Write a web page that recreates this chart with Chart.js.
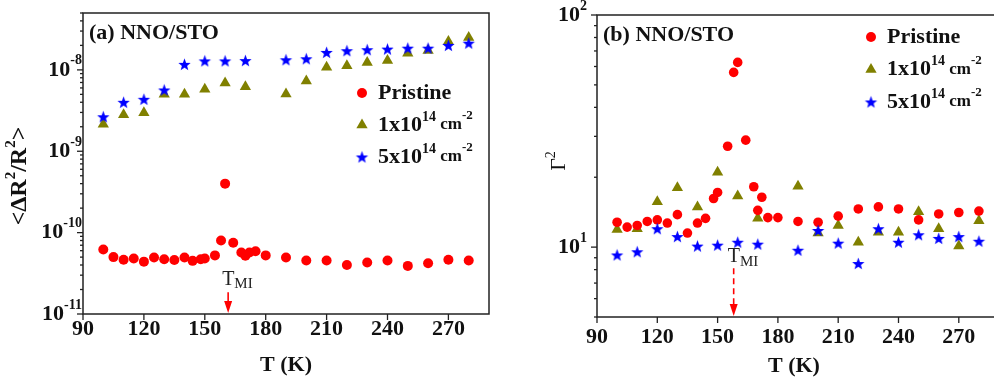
<!DOCTYPE html>
<html>
<head>
<meta charset="utf-8">
<script src="https://cdn.jsdelivr.net/npm/chart.js@4.4.1/dist/chart.umd.min.js"></script>
<style>
  html, body { margin: 0; padding: 0; background: #fff; overflow: hidden; width: 994px; height: 382px; }
  #wa { position: absolute; left: 0; top: 0; width: 497px; height: 382px; }
  #wb { position: absolute; left: 497px; top: 0; width: 520px; height: 382px; }
</style>
</head>
<body>
<div id="wa"><canvas id="ca" width="497" height="382"></canvas></div>
<div id="wb"><canvas id="cb" width="520" height="382"></canvas></div>
<script>
// ---- data ----
const xTicks = [90, 120, 150, 180, 210, 240, 270];

// (a) noise <dR2/R2>
const tPristineA = [100, 105, 110, 115, 120, 125, 130, 135, 140, 144, 148, 150, 155, 158, 160, 164, 168, 170, 172, 175, 180, 190, 200, 210, 220, 230, 240, 250, 260, 270, 280];
const pristineA = [6.2e-11, 5.0e-11, 4.65e-11, 4.8e-11, 4.4e-11, 4.95e-11, 4.7e-11, 4.6e-11, 4.95e-11, 4.5e-11, 4.7e-11, 4.8e-11, 5.25e-11, 8.0e-11, 4.0e-10, 7.5e-11, 5.7e-11, 5.2e-11, 5.7e-11, 5.9e-11, 5.25e-11, 4.95e-11, 4.55e-11, 4.55e-11, 4.0e-11, 4.3e-11, 4.55e-11, 3.9e-11, 4.2e-11, 4.65e-11, 4.55e-11];
const tIrrA = [100, 110, 120, 130, 140, 150, 160, 170, 190, 200, 210, 220, 230, 240, 250, 260, 270, 280];
const dose1A = [2.14e-9, 2.8e-9, 2.97e-9, 5.0e-9, 5.0e-9, 5.77e-9, 6.9e-9, 6.2e-9, 5.06e-9, 7.3e-9, 1.08e-8, 1.12e-8, 1.23e-8, 1.3e-8, 1.6e-8, 1.73e-8, 2.24e-8, 2.5e-8];
const dose5A = [2.65e-9, 4.0e-9, 4.35e-9, 5.66e-9, 1.17e-8, 1.29e-8, 1.29e-8, 1.3e-8, 1.33e-8, 1.37e-8, 1.64e-8, 1.72e-8, 1.77e-8, 1.8e-8, 1.85e-8, 1.85e-8, 2.0e-8, 2.13e-8];

// (b) Gamma^2
const tPristineB = [100, 105, 110, 115, 120, 125, 130, 135, 140, 144, 148, 150, 155, 158, 160, 164, 168, 170, 172, 175, 180, 190, 200, 210, 220, 230, 240, 250, 260, 270, 280];
const pristineB = [12.8, 12.2, 12.4, 12.9, 13.1, 12.7, 13.8, 11.5, 12.7, 13.3, 16.2, 17.2, 27.2, 56.6, 62.5, 28.9, 18.2, 14.4, 16.4, 13.4, 13.4, 12.9, 12.8, 13.6, 14.6, 14.9, 14.6, 13.1, 13.9, 14.1, 14.3];
const tIrrB = [100, 110, 120, 130, 140, 150, 160, 170, 190, 200, 210, 220, 230, 240, 250, 260, 270, 280];
const dose1B = [11.9, 12.0, 15.7, 18.0, 14.9, 21.0, 16.6, 13.3, 18.3, 11.5, 12.4, 10.5, 11.6, 11.6, 14.2, 12.0, 10.1, 13.0];
const dose5B = [9.25, 9.55, 12.0, 11.1, 10.1, 10.2, 10.5, 10.3, 9.7, 11.8, 10.4, 8.5, 12.0, 10.5, 11.3, 10.9, 11.1, 10.6];

const RED = "#ff0000", OLIVE = "#808000", BLUE = "#0000ff";
const FONT = "'Liberation Serif', 'Times New Roman', serif";

const pts = (xs, ys) => xs.map((x, i) => ({ x, y: ys[i] }));

function starImg(color, r) {
  const c = document.createElement("canvas");
  const s = Math.ceil(r * 2 + 2);
  c.width = s; c.height = s;
  const g = c.getContext("2d");
  g.fillStyle = color;
  g.beginPath();
  for (let i = 0; i < 10; i++) {
    const a = -Math.PI / 2 + i * Math.PI / 5;
    const rr = i % 2 ? r * 0.42 : r;
    g.lineTo(s / 2 + rr * Math.cos(a), s / 2 + 0.6 + rr * Math.sin(a));
  }
  g.closePath();
  g.fill();
  return c;
}
const STAR = starImg(BLUE, 6.5);

// text pieces: [text, size, dy, weight]
function textParts(ctx, parts, x, y, align) {
  let w = 0;
  parts.forEach((p) => { ctx.font = `${p[3] || "bold"} ${p[1]}px ${FONT}`; w += ctx.measureText(p[0]).width; });
  let cx = align === "right" ? x - w : align === "center" ? x - w / 2 : x;
  ctx.textAlign = "left";
  ctx.textBaseline = "middle";
  parts.forEach((p) => {
    ctx.font = `${p[3] || "bold"} ${p[1]}px ${FONT}`;
    ctx.fillText(p[0], cx, y + (p[2] || 0));
    cx += ctx.measureText(p[0]).width;
  });
}

function marker(ctx, kind, x, y) {
  if (kind === "circle") {
    ctx.fillStyle = RED;
    ctx.beginPath(); ctx.arc(x, y, 5, 0, Math.PI * 2); ctx.fill();
  } else if (kind === "triangle") {
    const r = 6.5;
    ctx.fillStyle = OLIVE;
    ctx.beginPath();
    for (let i = 0; i < 3; i++) {
      const a = i * 2 * Math.PI / 3;
      ctx.lineTo(x + Math.sin(a) * r, y - Math.cos(a) * r);
    }
    ctx.closePath(); ctx.fill();
  } else {
    ctx.drawImage(STAR, x - STAR.width / 2, y - STAR.height / 2);
  }
}

const deco = {
  id: "deco",
  afterDraw(chart) {
    const o = chart.options.plugins.deco;
    const ctx = chart.ctx;
    const a = chart.chartArea;
    const xs = chart.scales.x, ys = chart.scales.y;
    ctx.save();
    ctx.strokeStyle = "#222";
    ctx.fillStyle = "#111";
    ctx.lineWidth = 1.5;
    ctx.strokeRect(a.left, a.top, a.right - a.left, a.bottom - a.top);

    // x ticks
    ctx.lineWidth = 1.3;
    xTicks.forEach((v) => {
      const px = xs.getPixelForValue(v);
      ctx.beginPath(); ctx.moveTo(px, a.bottom); ctx.lineTo(px, a.bottom + 6); ctx.stroke();
      ctx.fillStyle = "#111";
      textParts(ctx, [[String(v), 22]], px, a.bottom + o.xLabelOff, "center");
    });

    // y ticks (log)
    const lo = Math.floor(Math.log10(ys.min)), hi = Math.ceil(Math.log10(ys.max));
    for (let e = lo; e <= hi; e++) {
      for (let m = 1; m <= 9; m++) {
        const v = m * Math.pow(10, e);
        if (v < ys.min * 0.999 || v > ys.max * 1.001) continue;
        const py = ys.getPixelForValue(v);
        ctx.beginPath(); ctx.moveTo(a.left, py); ctx.lineTo(a.left - (m === 1 ? 6 : 3), py); ctx.stroke();
        if (m === 1) textParts(ctx, [["10", 22], [String(e), 14, -9]], a.left - o.yLabelOff, py, "right");
      }
    }

    // axis titles
    textParts(ctx, [["T (K)", 22]], xs.getPixelForValue(o.xTitleAt), o.xTitleY, "center");
    ctx.save();
    ctx.translate(o.yTitleX, o.yTitleY);
    ctx.rotate(-Math.PI / 2);
    textParts(ctx, o.yTitle, 0, 0, "center");
    ctx.restore();

    // panel title
    textParts(ctx, [[o.title, 22]], a.left + 6, a.top + 20, "left");

    // legend
    o.legend.forEach((row, i) => {
      const y = o.legendY + i * o.legendGap;
      marker(ctx, row.kind, o.legendX, y);
      ctx.fillStyle = "#111";
      textParts(ctx, row.parts, o.legendX + 16, y, "left");
    });

    // T_MI arrow
    const ax = xs.getPixelForValue(o.tmi.x);
    const y0 = ys.getPixelForValue(o.tmi.from), y1 = ys.getPixelForValue(o.tmi.to);
    ctx.strokeStyle = RED;
    ctx.fillStyle = RED;
    ctx.lineWidth = 1.6;
    ctx.setLineDash(o.tmi.dash);
    ctx.beginPath(); ctx.moveTo(ax, y0); ctx.lineTo(ax, y1 - 10); ctx.stroke();
    ctx.setLineDash([]);
    ctx.beginPath(); ctx.moveTo(ax - 4, y1 - 13); ctx.lineTo(ax + 4, y1 - 13); ctx.lineTo(ax, y1 - 1); ctx.closePath(); ctx.fill();
    ctx.fillStyle = "#222";
    const ty = ys.getPixelForValue(o.tmi.text);
    textParts(ctx, [["T", 20, 0, "normal"], ["MI", 15, 5, "normal"]], ax - 6, ty, "left");
    ctx.restore();
  },
};

function makeChart(id, sets, yMin, yMax, padding, deco) {
  return new Chart(document.getElementById(id), {
    type: "scatter",
    data: { datasets: sets },
    options: {
      responsive: false,
      animation: false,
      layout: { padding },
      plugins: { legend: { display: false }, tooltip: { enabled: false }, deco },
      scales: {
        x: { type: "linear", min: 90, max: 290, display: false },
        y: { type: "logarithmic", min: yMin, max: yMax, display: false },
      },
    },
    plugins: [deco],
  });
}

const legendRows = [
  { kind: "circle", parts: [["Pristine", 22]] },
  { kind: "triangle", parts: [["1x10", 22], ["14", 14, -8], [" cm", 17], ["-2", 13, -9]] },
  { kind: "star", parts: [["5x10", 22], ["14", 14, -8], [" cm", 17], ["-2", 13, -9]] },
];

function sets(tp, p, ti, d1, d5, rCircle) {
  return [
    { label: "5x10^14 cm^-2", data: pts(ti, d5), pointStyle: STAR, clip: false },
    { label: "Pristine", data: pts(tp, p), pointStyle: "circle", pointRadius: rCircle, backgroundColor: RED, borderWidth: 0, clip: false },
    { label: "1x10^14 cm^-2", data: pts(ti, d1), pointStyle: "triangle", pointRadius: 6.5, backgroundColor: OLIVE, borderWidth: 0, clip: false },
  ];
}

Chart.register(deco);

makeChart("ca", sets(tPristineA, pristineA, tIrrA, dose1A, dose5A, 5), 1e-11, 5e-8,
  { left: 83, right: 8, top: 13, bottom: 68 },
  {
    xLabelOff: 15, yLabelOff: 1, xTitleAt: 190, xTitleY: 365,
    yTitleX: 20, yTitleY: 176,
    yTitle: [["<ΔR", 24], ["2", 15, -9], ["/R", 24], ["2", 15, -9], [">", 24]],
    title: "(a) NNO/STO",
    legend: legendRows, legendX: 362, legendY: 93, legendGap: 32,
    tmi: { x: 161.5, from: 1.85e-11, to: 1e-11, text: 2.65e-11, dash: [] },
  });

makeChart("cb", sets(tPristineB, pristineB, tIrrB, dose1B, dose5B, 4.8), 5, 100,
  { left: 100, right: 18, top: 15, bottom: 65 },
  {
    xLabelOff: 20, yLabelOff: 10, xTitleAt: 188, xTitleY: 366,
    yTitleX: 62, yTitleY: 161,
    yTitle: [["Γ", 22, 0, "normal"], ["2", 14, -8, "normal"]],
    title: "(b) NNO/STO",
    legend: legendRows, legendX: 374, legendY: 37, legendGap: 32.5,
    tmi: { x: 158, from: 8.1, to: 5, text: 9.06, dash: [6, 4] },
  });
</script>
</body>
</html>
